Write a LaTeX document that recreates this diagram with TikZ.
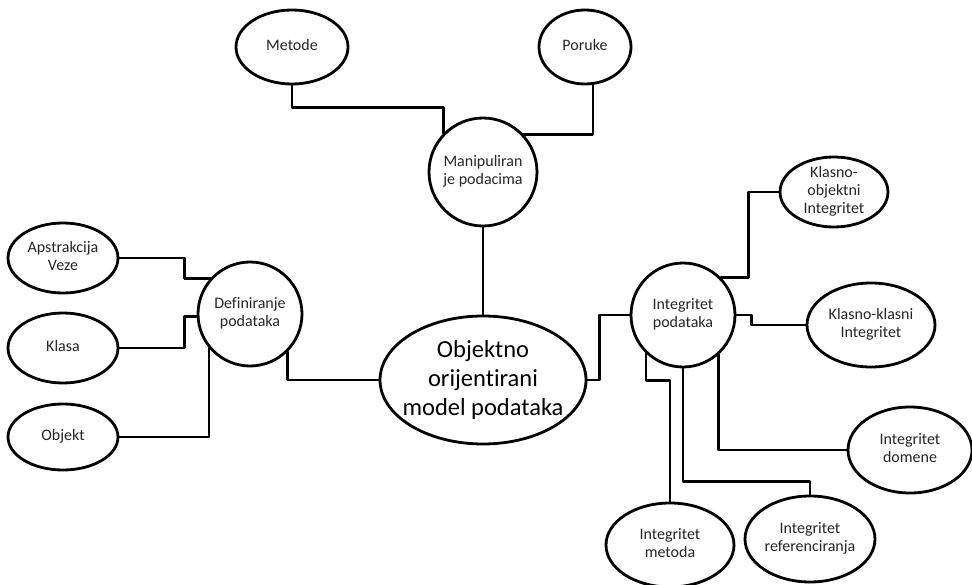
\documentclass[tikz,border=0pt]{standalone}
\usepackage{fontspec}
\setmainfont[Ligatures={NoCommon,NoRare,NoContextual}]{Carlito}
\usetikzlibrary{shapes.geometric,calc}
\newcommand{\tx}[1]{\raisebox{-0.28em}[0pt][0pt]{\makebox[0pt]{\begin{tabular}{@{}c@{}}#1\end{tabular}}}}
\tikzset{
  bub/.style={ellipse, draw=black, line width=2.8pt, fill=white, inner sep=0pt,
              font=\fontsize{16}{18}\selectfont, text=black!85},
  big/.style={bub, font=\fontsize{24.5}{29}\selectfont, text=black},
  con/.style={draw=black, line width=2.8pt, line join=round, line cap=round}
}
\begin{document}
\begin{tikzpicture}[x=1pt,y=-1pt]
\useasboundingbox[fill=white] (0,0) rectangle (972,585);
% nodes
\node[big, minimum width=206, minimum height=128] (center) at (483,380) {\tx{Objektno\\orijentirani\\model podataka}};
\node[bub, minimum width=108, minimum height=108] (manip) at (483,172) {\tx{Manipuliran\\je podacima}};
\node[bub, minimum width=112, minimum height=74] (metode) at (292,47) {\tx{Metode}};
\node[bub, minimum width=92, minimum height=74] (poruke) at (585,47) {\tx{Poruke}};
\node[bub, minimum width=104, minimum height=104] (def) at (250,314) {\tx{Definiranje\\podataka}};
\node[bub, minimum width=110, minimum height=70] (apv) at (63,258) {\tx{Apstrakcija\\Veze}};
\node[bub, minimum width=110, minimum height=70] (klasa) at (63,348) {\tx{Klasa}};
\node[bub, minimum width=110, minimum height=66] (objekt) at (63,437) {\tx{Objekt}};
\node[bub, minimum width=104, minimum height=104] (ip) at (683,315) {\tx{Integritet\\podataka}};
\node[bub, minimum width=108, minimum height=70] (ko) at (834,192) {\tx{Klasno-\\objektni\\Integritet}};
\node[bub, minimum width=128, minimum height=84] (kk) at (871,325) {\tx{Klasno-klasni\\Integritet}};
\node[bub, minimum width=124, minimum height=86] (dom) at (910,450) {\tx{Integritet\\domene}};
\node[bub, minimum width=128, minimum height=84] (met) at (670,545) {\tx{Integritet\\metoda}};
\node[bub, minimum width=130, minimum height=86] (ref) at (810,539) {\tx{Integritet\\referenciranja}};
% connectors
\draw[con] (metode.south) -- ++(0,22) -| (manip.136);
\draw[con] (poruke.-78) |- (manip.43);
\draw[con] (manip.south) -- (center.north);
\draw[con] (center.west) -| (def.-45);
\draw[con] (center.east) -- ++(12,0) |- (ip.west);
\draw[con] (apv.east) -- ++(65,0) |- (def.138);
\draw[con] (klasa.east) -- ++(65,0) |- (def.183);
\draw[con] (objekt.east) -| (def.220);
\draw[con] (ko.west) -- ++(-30,0) |- (ip.45);
\draw[con] (ip.east) -- ++(15,0) |- (kk.west);
\draw[con] (ip.-48) |- (dom.west);
\draw[con] (ip.south) |- ($(ref.north)+(0,-13)$) -- (ref.north);
\draw[con] (ip.226) |- ($(met.north)+(0,-121)$) -- (met.north);
\end{tikzpicture}
\end{document}
